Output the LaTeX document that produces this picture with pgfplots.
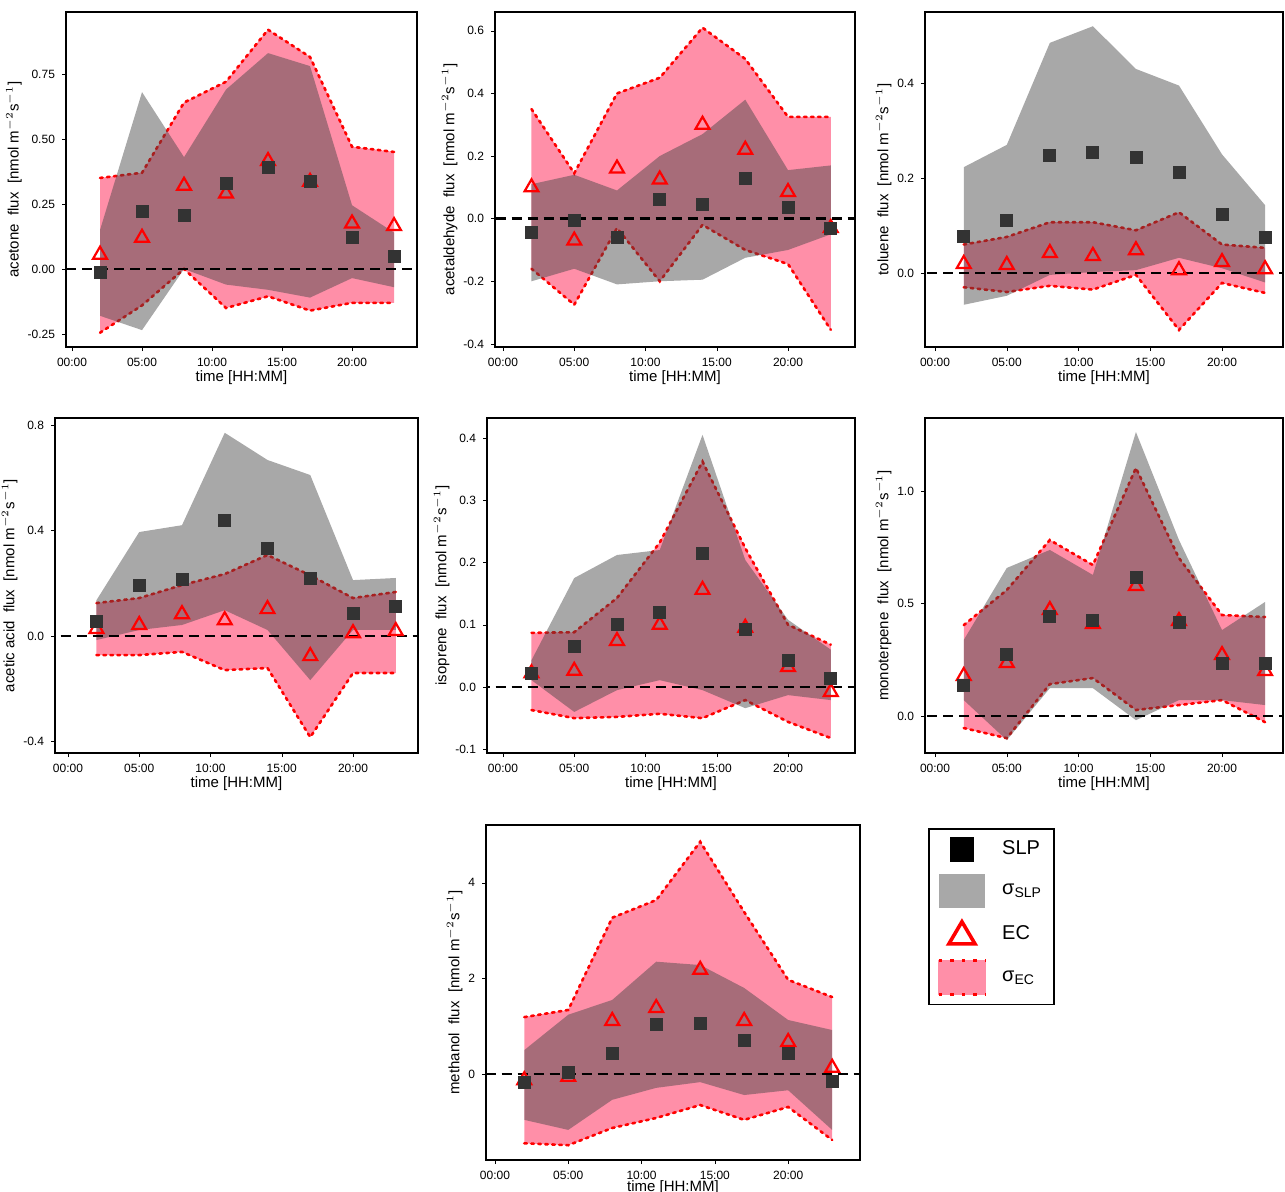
\documentclass[border=0pt]{standalone}
\usepackage{fontspec}
\setmainfont{Liberation Sans}
\usepackage{pgfplots}
\pgfplotsset{compat=1.18}
\definecolor{pinkf}{HTML}{FF8FA8}
\definecolor{slpc}{HTML}{333333}
\definecolor{grayb}{RGB}{70,70,70}
\pgfplotsset{panel/.style={scale only axis, anchor=north west, height=167.5pt,
 xtick={0,5,10,15,20}, xticklabels={00:00,05:00,10:00,15:00,20:00},
 xtick pos=bottom, ytick pos=left,
 tick label style={font=\fontsize{6}{7}\selectfont}, label style={font=\fontsize{7.5}{8}\selectfont},
 xlabel={time [HH:MM]}, xlabel style={yshift=5pt}, ylabel style={yshift=-4pt},
 tick align=outside, major tick length=2pt, tick style={black}, axis line style={black, thick},
 /pgf/number format/assume math mode=true, scaled y ticks=false, yticklabel style={/pgf/number format/fixed}},
 pinkrib/.style={fill=pinkf, draw=none},
 grayrib/.style={fill=grayb, fill opacity=0.47, draw=none},
 edge/.style={red, dash pattern=on 1.3pt off 2.2pt, line cap=round, line width=1.3pt},
 ec/.style={only marks, mark=triangle, mark size=4pt, red, line width=1.1pt},
 slp/.style={only marks, mark=square*, mark size=3pt, slpc},
 zl/.style={black, dash pattern=on 5pt off 3pt, line width=1.3pt}}
\begin{document}
\begin{tikzpicture}
\useasboundingbox (0,0) rectangle (642.5pt,-595.5pt);
% panel 1 acetone
\begin{axis}[panel, at={(33pt,-6pt)}, width=175.5pt, xmin=-0.43, xmax=24.64, ymin=-0.30, ymax=0.988,
 ytick={-0.25,0,0.25,0.5,0.75}, yticklabels={-0.25,0.00,0.25,0.50,0.75},
 ylabel={acetone\ \ flux\ \ [nmol m$^{-2}$s$^{-1}$]}]
\addplot[pinkrib] coordinates {(2,0.35)(5,0.37)(8,0.64)(11,0.72)(14,0.92)(17,0.815)(20,0.47)(23,0.45)(23,-0.13)(20,-0.13)(17,-0.16)(14,-0.105)(11,-0.15)(8,0.0)(5,-0.14)(2,-0.245)} -- cycle;
\addplot[edge] coordinates {(2,0.35)(5,0.37)(8,0.64)(11,0.72)(14,0.92)(17,0.815)(20,0.47)(23,0.45)};
\addplot[edge] coordinates {(2,-0.245)(5,-0.14)(8,0.0)(11,-0.15)(14,-0.105)(17,-0.16)(20,-0.13)(23,-0.13)};
\addplot[ec] coordinates {(2,0.055)(5,0.12)(8,0.32)(11,0.29)(14,0.415)(17,0.335)(20,0.175)(23,0.165)};
\addplot[grayrib] coordinates {(2,0.15)(5,0.68)(8,0.43)(11,0.69)(14,0.83)(17,0.78)(20,0.245)(23,0.14)(23,-0.07)(20,-0.035)(17,-0.11)(14,-0.08)(11,-0.06)(8,0)(5,-0.235)(2,-0.18)} -- cycle;
\addplot[zl] coordinates {(-5,0)(30,0)};
\addplot[slp] coordinates {(2,-0.015)(5,0.22)(8,0.205)(11,0.33)(14,0.39)(17,0.335)(20,0.12)(23,0.05)};
\end{axis}
% panel 2 acetaldehyde
\begin{axis}[panel, at={(247.5pt,-6pt)}, width=180pt, xmin=-0.56, xmax=24.7, ymin=-0.41, ymax=0.66,
 ytick={-0.4,-0.2,0,0.2,0.4,0.6}, yticklabels={-0.4,-0.2,0.0,0.2,0.4,0.6},
 ylabel={acetaldehyde\ \ flux\ \ [nmol m$^{-2}$s$^{-1}$]}]
\addplot[pinkrib] coordinates {(2,0.35)(5,0.145)(8,0.40)(11,0.45)(14,0.61)(17,0.51)(20,0.325)(23,0.325)(23,-0.355)(20,-0.145)(17,-0.1)(14,-0.02)(11,-0.2)(8,-0.03)(5,-0.275)(2,-0.16)} -- cycle;
\addplot[edge] coordinates {(2,0.35)(5,0.145)(8,0.40)(11,0.45)(14,0.61)(17,0.51)(20,0.325)(23,0.325)};
\addplot[edge] coordinates {(2,-0.16)(5,-0.275)(8,-0.03)(11,-0.2)(14,-0.02)(17,-0.1)(20,-0.145)(23,-0.355)};
\addplot[ec] coordinates {(2,0.10)(5,-0.07)(8,0.16)(11,0.125)(14,0.30)(17,0.22)(20,0.085)(23,-0.03)};
\addplot[grayrib] coordinates {(2,0.11)(5,0.14)(8,0.09)(11,0.2)(14,0.27)(17,0.38)(20,0.155)(23,0.17)(23,-0.05)(20,-0.1)(17,-0.125)(14,-0.195)(11,-0.2)(8,-0.21)(5,-0.16)(2,-0.2)} -- cycle;
\addplot[zl] coordinates {(-5,0)(30,0)};
\addplot[slp] coordinates {(2,-0.045)(5,-0.005)(8,-0.06)(11,0.06)(14,0.045)(17,0.13)(20,0.035)(23,-0.03)};
\end{axis}
% panel 3 toluene
\begin{axis}[panel, at={(462.5pt,-6pt)}, width=179pt, xmin=-0.7, xmax=24.25, ymin=-0.156, ymax=0.55,
 ytick={0,0.2,0.4}, yticklabels={0.0,0.2,0.4},
 ylabel={toluene\ \ flux\ \ [nmol m$^{-2}$s$^{-1}$]}]
\addplot[pinkrib] coordinates {(2,0.06)(5,0.076)(8,0.107)(11,0.107)(14,0.09)(17,0.128)(20,0.06)(23,0.053)(23,-0.042)(20,-0.021)(17,-0.12)(14,-0.004)(11,-0.035)(8,-0.027)(5,-0.04)(2,-0.03)} -- cycle;
\addplot[edge] coordinates {(2,0.06)(5,0.076)(8,0.107)(11,0.107)(14,0.09)(17,0.128)(20,0.06)(23,0.053)};
\addplot[edge] coordinates {(2,-0.03)(5,-0.04)(8,-0.027)(11,-0.035)(14,-0.004)(17,-0.12)(20,-0.021)(23,-0.042)};
\addplot[ec] coordinates {(2,0.019)(5,0.017)(8,0.042)(11,0.036)(14,0.048)(17,0.006)(20,0.023)(23,0.008)};
\addplot[grayrib] coordinates {(2,0.223)(5,0.27)(8,0.485)(11,0.52)(14,0.43)(17,0.395)(20,0.25)(23,0.143)(23,-0.02)(20,0.01)(17,0.032)(14,0.006)(11,0.002)(8,-0.004)(5,-0.048)(2,-0.067)} -- cycle;
\addplot[zl] coordinates {(-5,0)(30,0)};
\addplot[slp] coordinates {(2,0.078)(5,0.11)(8,0.248)(11,0.255)(14,0.244)(17,0.213)(20,0.124)(23,0.076)};
\end{axis}
% panel 4 acetic acid
\begin{axis}[panel, at={(27.5pt,-209pt)}, width=181.5pt, xmin=-0.91, xmax=24.56, ymin=-0.443, ymax=0.826,
 ytick={-0.4,0,0.4,0.8}, yticklabels={-0.4,0.0,0.4,0.8},
 ylabel={acetic acid\ \ flux\ \ [nmol m$^{-2}$s$^{-1}$]}]
\addplot[pinkrib] coordinates {(2,0.125)(5,0.144)(8,0.193)(11,0.235)(14,0.307)(17,0.23)(20,0.144)(23,0.167)(23,-0.14)(20,-0.14)(17,-0.383)(14,-0.121)(11,-0.129)(8,-0.06)(5,-0.072)(2,-0.072)} -- cycle;
\addplot[edge] coordinates {(2,0.125)(5,0.144)(8,0.193)(11,0.235)(14,0.307)(17,0.23)(20,0.144)(23,0.167)};
\addplot[edge] coordinates {(2,-0.072)(5,-0.072)(8,-0.06)(11,-0.129)(14,-0.121)(17,-0.383)(20,-0.14)(23,-0.14)};
\addplot[ec] coordinates {(2,0.027)(5,0.042)(8,0.083)(11,0.06)(14,0.102)(17,-0.076)(20,0.011)(23,0.019)};
\addplot[grayrib] coordinates {(2,0.136)(5,0.394)(8,0.42)(11,0.77)(14,0.667)(17,0.61)(20,0.212)(23,0.22)(23,0.023)(20,0.023)(17,-0.167)(14,0.023)(11,0.098)(8,0.042)(5,0.023)(2,-0.015)} -- cycle;
\addplot[zl] coordinates {(-5,0)(30,0)};
\addplot[slp] coordinates {(2,0.057)(5,0.193)(8,0.216)(11,0.44)(14,0.333)(17,0.22)(20,0.087)(23,0.114)};
\end{axis}
% panel 5 isoprene
\begin{axis}[panel, at={(243.5pt,-209pt)}, width=184pt, xmin=-1.12, xmax=24.7, ymin=-0.106, ymax=0.432,
 ytick={-0.1,0,0.1,0.2,0.3,0.4}, yticklabels={-0.1,0.0,0.1,0.2,0.3,0.4},
 ylabel={isoprene\ \ flux\ \ [nmol m$^{-2}$s$^{-1}$]}]
\addplot[pinkrib] coordinates {(2,0.087)(5,0.088)(8,0.143)(11,0.232)(14,0.362)(17,0.223)(20,0.1)(23,0.068)(23,-0.082)(20,-0.056)(17,-0.021)(14,-0.05)(11,-0.043)(8,-0.048)(5,-0.05)(2,-0.037)} -- cycle;
\addplot[edge] coordinates {(2,0.087)(5,0.088)(8,0.143)(11,0.232)(14,0.362)(17,0.223)(20,0.1)(23,0.068)};
\addplot[edge] coordinates {(2,-0.037)(5,-0.05)(8,-0.048)(11,-0.043)(14,-0.05)(17,-0.021)(20,-0.056)(23,-0.082)};
\addplot[ec] coordinates {(2,0.022)(5,0.026)(8,0.074)(11,0.1)(14,0.156)(17,0.095)(20,0.032)(23,-0.008)};
\addplot[grayrib] coordinates {(2,0.043)(5,0.175)(8,0.212)(11,0.22)(14,0.405)(17,0.204)(20,0.108)(23,0.06)(23,-0.021)(20,-0.013)(17,-0.034)(14,-0.005)(11,0.011)(8,-0.005)(5,-0.04)(2,0.011)} -- cycle;
\addplot[zl] coordinates {(-5,0)(30,0)};
\addplot[slp] coordinates {(2,0.022)(5,0.066)(8,0.101)(11,0.12)(14,0.215)(17,0.092)(20,0.043)(23,0.014)};
\end{axis}
% panel 6 monoterpene
\begin{axis}[panel, at={(462.5pt,-209pt)}, width=179pt, xmin=-0.7, xmax=24.25, ymin=-0.164, ymax=1.324,
 ytick={0,0.5,1}, yticklabels={0.0,0.5,1.0},
 ylabel={monoterpene\ \ flux\ \ [nmol m$^{-2}$s$^{-1}$]}]
\addplot[pinkrib] coordinates {(2,0.404)(5,0.56)(8,0.782)(11,0.671)(14,1.102)(17,0.702)(20,0.449)(23,0.44)(23,-0.027)(20,0.071)(17,0.049)(14,0.027)(11,0.169)(8,0.142)(5,-0.098)(2,-0.053)} -- cycle;
\addplot[edge] coordinates {(2,0.404)(5,0.56)(8,0.782)(11,0.671)(14,1.102)(17,0.702)(20,0.449)(23,0.44)};
\addplot[edge] coordinates {(2,-0.053)(5,-0.098)(8,0.142)(11,0.169)(14,0.027)(17,0.049)(20,0.071)(23,-0.027)};
\addplot[ec] coordinates {(2,0.178)(5,0.236)(8,0.471)(11,0.409)(14,0.578)(17,0.422)(20,0.271)(23,0.2)};
\addplot[grayrib] coordinates {(2,0.338)(5,0.658)(8,0.738)(11,0.627)(14,1.262)(17,0.782)(20,0.382)(23,0.507)(23,0.049)(20,0.071)(17,0.071)(14,-0.018)(11,0.124)(8,0.124)(5,-0.107)(2,0.071)} -- cycle;
\addplot[zl] coordinates {(-5,0)(30,0)};
\addplot[slp] coordinates {(2,0.138)(5,0.276)(8,0.444)(11,0.427)(14,0.618)(17,0.418)(20,0.236)(23,0.236)};
\end{axis}
% panel 7 methanol
\begin{axis}[panel, at={(243pt,-412.5pt)}, width=187pt, xmin=-0.61, xmax=24.9, ymin=-1.8, ymax=5.21,
 ytick={0,2,4}, xlabel style={yshift=1.5pt},
 ylabel={methanol\ \ flux\ \ [nmol m$^{-2}$s$^{-1}$]}]
\addplot[pinkrib] coordinates {(2,1.19)(5,1.34)(8,3.27)(11,3.64)(14,4.86)(17,3.39)(20,1.97)(23,1.61)(23,-1.38)(20,-0.69)(17,-0.96)(14,-0.65)(11,-0.92)(8,-1.13)(5,-1.49)(2,-1.45)} -- cycle;
\addplot[edge] coordinates {(2,1.19)(5,1.34)(8,3.27)(11,3.64)(14,4.86)(17,3.39)(20,1.97)(23,1.61)};
\addplot[edge] coordinates {(2,-1.45)(5,-1.49)(8,-1.13)(11,-0.92)(14,-0.65)(17,-0.96)(20,-0.69)(23,-1.38)};
\addplot[ec] coordinates {(2,-0.13)(5,-0.06)(8,1.11)(11,1.38)(14,2.18)(17,1.11)(20,0.67)(23,0.13)};
\addplot[grayrib] coordinates {(2,0.5)(5,1.24)(8,1.55)(11,2.35)(14,2.28)(17,1.8)(20,1.13)(23,0.92)(23,-1.17)(20,-0.34)(17,-0.44)(14,-0.17)(11,-0.29)(8,-0.54)(5,-1.17)(2,-0.96)} -- cycle;
\addplot[zl] coordinates {(-5,0)(30,0)};
\addplot[slp] coordinates {(2,-0.17)(5,0.04)(8,0.44)(11,1.03)(14,1.05)(17,0.71)(20,0.44)(23,-0.15)};
\end{axis}
% legend
\begin{axis}[scale only axis, anchor=north west, at={(464pt,-414pt)}, width=69pt, height=82.5pt, hide axis,
 xmin=0, xmax=1, ymin=0, ymax=1,
 legend style={at={(0,1)}, anchor=north west, draw=black, thick, font=\fontsize{10}{12}\selectfont,
  legend cell align=left, row sep=6pt, inner xsep=4pt, inner ysep=4pt},
 legend image code/.code={}]
\addlegendimage{legend image code/.code={\draw[fill=black, draw=black, thin] (0.02cm,-0.21cm) rectangle (0.44cm,0.21cm);}}
\addlegendentry{\ \ SLP}
\addlegendimage{legend image code/.code={\fill[black!34, draw=none] (-0.18cm,-0.3cm) rectangle (0.64cm,0.3cm);}}
\addlegendentry{\ \ σ\textsubscript{SLP}}
\addlegendimage{legend image code/.code={\draw[red, line width=1.8pt] (0.0cm,-0.17cm) -- (0.46cm,-0.17cm) -- (0.23cm,0.22cm) -- cycle;}}
\addlegendentry{\ \ EC}
\addlegendimage{legend image code/.code={\fill[pinkf] (-0.18cm,-0.3cm) rectangle (0.64cm,0.3cm); \draw[red, dash pattern=on 1.8pt off 4pt, line width=1.8pt] (-0.18cm,-0.3cm) -- (0.64cm,-0.3cm) (-0.18cm,0.3cm) -- (0.64cm,0.3cm);}}
\addlegendentry{\ \ σ\textsubscript{EC}}
\end{axis}
\end{tikzpicture}
\end{document}
